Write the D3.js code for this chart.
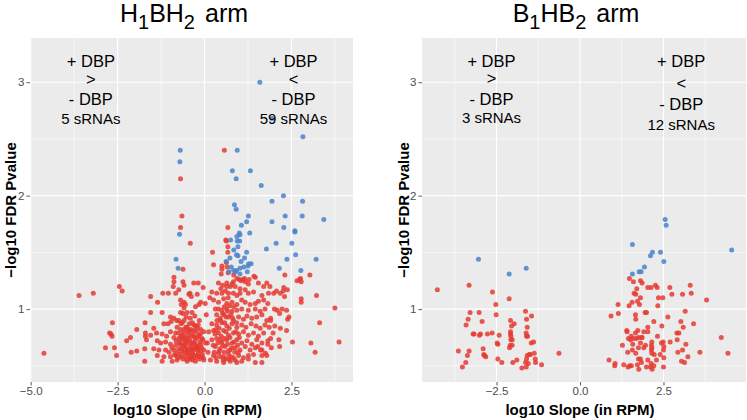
<!DOCTYPE html>
<html><head><meta charset="utf-8">
<script src="https://cdn.jsdelivr.net/npm/d3@7"></script>
<style>
body{margin:0;background:#fff;}
svg{display:block;font-family:"Liberation Sans",Arial,Helvetica,sans-serif;}
</style>
</head><body>
<svg id="chart" width="747" height="420"></svg>
<script>
// ---------------- DATA ----------------
const yTicks = [1, 2, 3];
const xTicksH = [-5, -2.5, 0, 2.5];
const xTicksB = [-2.5, 0, 2.5];
const xLabel = "log10 Slope (in RPM)";
const yLabel = "\u2212log10 FDR Pvalue";
const leftNote = ["+ DBP", ">", "- DBP"];
const rightNote = ["+ DBP", "<", "- DBP"];
const countsH = ["5 sRNAs", "59 sRNAs"];
const countsB = ["3 sRNAs", "12 sRNAs"];

// H1BH2 arm: significant (blue)
const h1bh2Sig = [
[-0.70,2.40],[-0.71,2.30],[-0.72,1.66],[-0.82,1.44],[-0.76,1.36],
[1.59,3.00],[1.94,2.68],[2.83,2.52],[0.94,2.40],[0.80,2.22],[1.32,2.22],[0.91,2.15],[1.63,2.09],[2.27,2.00],[1.94,1.95],[2.82,1.95],
[0.86,1.92],[0.91,1.88],[1.26,1.82],[2.32,1.82],[2.81,1.82],[3.43,1.79],[1.21,1.77],[1.94,1.77],[1.06,1.74],[2.28,1.72],
[2.60,1.69],[2.60,1.68],[1.00,1.67],[1.02,1.655],[0.93,1.64],[1.30,1.67],[2.06,1.58],[2.51,1.58],[0.94,1.60],[1.01,1.60],
[0.75,1.61],[0.96,1.55],[1.78,1.53],[0.84,1.52],[1.21,1.50],[2.62,1.48],[0.92,1.48],[0.96,1.47],[3.21,1.44],[0.73,1.45],[2.37,1.44],
[0.62,1.42],[0.77,1.37],[0.84,1.34],[0.92,1.34],[1.02,1.36],[1.02,1.31],[1.13,1.37],[1.25,1.38],[1.27,1.40],[1.34,1.40],
[1.23,1.33],[2.15,1.36],[2.77,1.34],[0.89,1.33],[1.05,1.42],[0.70,1.33],[1.15,1.45]
];

// H1BH2 arm: other (red)
const h1bh2Other = [
[-4.62,0.61],[-3.61,1.12],[-3.20,1.14],[-2.45,1.20],[-2.37,1.16],[-2.65,0.88],[-2.73,0.79],[-2.69,0.78],[-2.66,0.76],[-2.85,0.66],
[-2.59,0.66],[-2.53,0.59],[-2.24,0.72],[-2.13,0.75],[-1.95,0.82],[-2.11,0.62],[-1.95,0.63],[-1.70,0.79],[-1.70,0.76],[-1.71,0.88],
[-1.72,0.65],[-1.72,0.54],[-1.55,0.97],[-1.67,0.73],
[-0.88,1.28],[-0.88,1.24],[-0.90,1.20],[-0.62,1.24],[-0.59,1.21],[-0.31,1.23],[-0.18,1.23],[-0.42,1.14],[-1.20,1.14],[-1.04,1.14],
[-0.83,1.14],[-0.74,1.17],[-0.04,1.19],[-1.35,1.06],[-1.55,1.11],[-0.69,1.08],[-0.59,1.06],[-0.67,1.04],[-0.55,1.04],[-0.59,1.01],
[-0.45,1.13],[-0.38,1.11],[-0.21,1.13],[-0.16,1.04],[-0.11,1.06],[-0.26,1.02],[-0.69,0.97],[-0.62,0.96],[-1.22,0.97],[-0.98,0.93],
[-0.88,0.92],[-1.17,0.87],[-1.05,0.87],[-0.96,0.89],[-0.74,0.90],[-0.64,0.88],[-0.59,0.90],[-0.35,0.88],[-0.31,0.86],[-0.79,0.84],
[-0.69,0.82],[-0.59,0.82],[-0.50,0.84],[-0.40,0.82],[-0.31,0.81],[-0.21,0.83],[-0.11,0.82],[-0.02,0.80],[-1.46,0.83],[-1.38,0.79],
[-1.55,0.77],[-1.22,0.78],[-1.09,0.76],[-0.98,0.80],[-0.83,0.79],
[-0.88,0.75],[-0.74,0.74],[-0.64,0.77],[-0.55,0.75],[-0.45,0.74],[-0.35,0.76],[-0.26,0.75],[-0.16,0.77],[-0.07,0.74],
[-1.36,0.72],[-1.26,0.70],[-1.12,0.71],
[-0.98,0.69],[-0.83,0.68],[-0.69,0.69],[-0.59,0.67],[-0.50,0.70],[-0.40,0.68],[-0.31,0.70],[-0.21,0.67],[-0.11,0.69],[0.03,0.70],
[-1.46,0.65],[-1.31,0.64],
[-1.12,0.64],[-1.02,0.62],[-0.88,0.64],[-0.74,0.65],[-0.64,0.63],[-0.50,0.64],[-0.35,0.62],[-0.23,0.65],[-0.11,0.63],[-0.02,0.64],
[-1.36,0.59],[-1.17,0.58],
[-0.98,0.58],[-0.83,0.59],[-0.67,0.58],[-0.55,0.59],[-0.40,0.57],[-0.31,0.59],[-0.16,0.58],[-0.04,0.57],
[-1.22,0.54],[-0.93,0.54],[-0.79,0.55],[-0.50,0.54],[-0.26,0.54],[-0.02,0.55],
[-0.78,0.62],[-0.70,0.60],[-0.62,0.56],[-0.57,0.62],[-0.52,0.66],[-0.46,0.60],[-0.43,0.56],[-0.38,0.66],[-0.33,0.60],[-0.28,0.57],
[-0.24,0.68],[-0.18,0.61],[-0.14,0.56],[-0.08,0.66],[-0.72,0.70],[-0.66,0.73],[-0.60,0.68],[-0.53,0.72],[-0.47,0.77],[-0.42,0.72],
[-0.36,0.70],[-0.30,0.76],[-0.27,0.72],[-0.19,0.75],[-0.13,0.71],[-0.60,0.79],[-0.54,0.84],[-0.48,0.80],[-0.44,0.87],[-0.37,0.79],
[-0.24,0.80],[-0.18,0.86],[-0.05,0.73],[-0.52,0.56],[-0.35,0.55],[-0.66,0.65],[-0.20,0.64],[-0.41,0.92],[-0.50,0.97],[-0.28,0.94],
[-0.80,0.90],[-0.58,0.74],[-0.32,0.64],[-0.12,0.78],[-0.06,0.60],
[-0.86,0.60],[-0.76,0.57],[-0.48,0.62],[-0.38,0.59],[-0.22,0.59],[-0.09,0.58],[-0.68,0.76],[-0.44,0.81],[-0.26,0.85],[-0.15,0.90],
[-0.68,0.87],[-0.53,0.93],[-0.36,0.97],[-0.82,0.72],[-0.94,0.66],[-0.42,0.64],[-0.16,0.66],[-0.29,0.66],[-0.56,0.70],[-0.74,0.79],
[-0.69,2.15],[0.57,2.40],[-0.65,1.82],[-0.69,1.72],[-0.41,1.58],[0.67,1.72],[0.61,1.61],[0.63,1.60],[0.67,1.55],[0.23,1.50],
[0.67,1.50],[-0.62,1.35],[0.63,1.41],[0.65,1.37],[0.68,1.32],[0.84,1.30],[1.42,1.29],[2.31,1.30],[3.03,1.30],[2.76,1.27],
[1.00,1.26],[1.10,1.26],[1.28,1.26],
[0.26,1.39],[0.50,1.38],[0.50,1.35],[0.48,1.31],
[0.64,1.23],[0.83,1.24],[0.93,1.27],[1.05,1.25],[1.17,1.24],[1.15,1.27],[1.26,1.22],[1.46,1.28],[1.55,1.23],[1.79,1.23],[1.70,1.20],
[0.40,1.23],[0.52,1.21],[0.64,1.20],[0.79,1.22],[0.88,1.20],[1.02,1.18],[1.17,1.17],
[0.21,1.15],[0.35,1.14],[0.50,1.14],[0.69,1.14],[0.83,1.14],[0.93,1.12],[1.02,1.14],[1.26,1.14],[1.41,1.15],[1.65,1.12],[1.84,1.14],
[0.26,1.08],[0.40,1.06],[0.55,1.09],[0.64,1.05],[0.79,1.06],[0.93,1.04],[1.07,1.08],[1.17,1.06],[1.31,1.04],[1.46,1.05],[1.55,1.07],[1.70,1.08],[1.82,1.05],
[0.31,1.00],[0.50,0.99],[0.64,1.00],[0.79,0.98],[0.93,0.99],[1.07,1.00],[1.26,0.99],[1.46,1.00],[1.60,0.98],[1.74,1.00],
[0.35,0.95],[0.45,0.92],[0.55,0.95],[0.69,0.93],[0.83,0.90],[0.98,0.93],[1.12,0.91],[1.22,0.94],[1.36,0.92],[1.50,0.93],[1.65,0.95],[1.79,0.90],
[0.21,0.87],[0.35,0.86],[0.50,0.88],[0.64,0.85],[0.79,0.87],[0.93,0.84],[1.07,0.86],[1.19,0.84],[1.34,0.87],[1.48,0.85],[1.60,0.83],[1.74,0.86],[1.86,0.84],
[0.26,0.81],[0.40,0.79],[0.55,0.81],[0.69,0.77],[0.83,0.79],[0.98,0.78],[1.12,0.80],[1.26,0.77],[1.41,0.79],[1.55,0.76],[1.70,0.79],
[0.21,0.73],[0.35,0.74],[0.50,0.71],[0.64,0.73],[0.79,0.70],[0.93,0.73],[1.07,0.70],[1.22,0.72],[1.36,0.69],[1.50,0.73],[1.65,0.70],[1.82,0.72],
[0.31,0.67],[0.45,0.65],[0.59,0.67],[0.74,0.64],[0.88,0.66],[1.02,0.64],[1.17,0.67],[1.31,0.64],[1.46,0.66],[1.65,0.64],
[0.26,0.59],[0.40,0.61],[0.55,0.58],[0.69,0.60],[0.83,0.57],[0.98,0.59],[1.12,0.57],[1.26,0.59],[1.41,0.60],[1.65,0.59],[1.79,0.59],
[0.35,0.54],[0.55,0.53],[0.74,0.54],[0.93,0.53],[1.07,0.54],[1.26,0.56],[1.46,0.53],[1.65,0.53],
[0.28,0.62],[0.33,0.57],[0.38,0.70],[0.42,0.63],[0.46,0.58],[0.48,0.76],[0.52,0.68],[0.56,0.62],[0.58,0.74],[0.61,0.56],
[0.62,0.80],[0.66,0.69],[0.68,0.63],[0.71,0.83],[0.73,0.75],[0.76,0.58],[0.78,0.66],[0.81,0.92],[0.85,0.71],[0.87,0.62],
[0.90,0.80],[0.95,0.68],[0.42,0.83],[0.46,0.90],[0.52,0.96],[0.58,0.88],[0.62,0.93],[0.66,0.98],[0.72,1.03],[0.76,0.95],
[0.30,0.78],[0.36,0.90],[0.40,1.00],[0.45,0.73],[0.54,0.55],[0.70,0.56],[0.88,0.55],[0.97,0.62],[1.00,0.75],[0.25,0.68],
[0.57,1.02],[0.68,1.10],[0.84,1.02],[0.60,1.16],[0.47,1.18],[0.74,1.20],[0.92,0.88],[0.33,0.82],
[0.05,0.95],[0.10,0.62],[0.12,0.80],[0.15,1.10],[0.08,0.70],[0.17,0.55],[0.02,1.05],
[1.88,1.20],[2.07,1.16],[2.18,1.14],[2.28,1.19],[2.30,1.11],[2.38,1.17],[2.66,1.25],[2.74,1.26],[2.78,1.24],
[2.78,1.09],[2.78,1.06],[3.22,1.12],[3.75,1.01],[3.31,0.88],[3.87,0.71],[3.06,0.70],[3.18,0.62],[2.53,0.71],[2.16,0.67],
[2.36,0.81],[2.39,0.91],[2.43,0.93],[2.36,0.99],[2.23,1.00],[2.09,0.99],[2.01,1.00],[2.16,0.96],[1.90,0.92],[1.90,0.90],
[2.18,0.83],[2.02,0.85],[1.97,0.79],[1.90,0.74],[1.92,0.66],[2.14,0.73],[1.82,0.69],[1.75,0.61],[1.61,0.64],[1.53,0.67],
[1.99,1.14],[2.26,1.16]
];

// B1HB2 arm: significant (blue)
const b1hb2Sig = [
[-3.04,1.44],[-2.12,1.31],[-1.61,1.36],[1.57,1.57],[1.57,1.31],[1.77,1.33],[1.83,1.33],[1.93,1.37],
[2.11,1.47],[2.17,1.50],[2.41,1.50],[2.51,1.42],[2.55,1.79],[2.58,1.74],[4.54,1.52]
];

// B1HB2 arm: other (red)
const b1hb2Other = [
[-4.27,1.17],[-3.32,1.21],[-2.62,1.15],[-2.12,1.09],[-2.52,1.04],[-3.29,0.97],[-3.02,0.97],[-1.63,0.98],[-3.41,0.86],[-3.35,0.91],
[-2.93,0.89],[-2.51,0.95],[-2.08,0.90],[-1.97,0.87],[-2.05,0.85],[-1.45,0.94],[-1.60,0.91],[-1.58,0.84],[-3.20,0.78],[-3.17,0.78],
[-3.01,0.77],[-2.98,0.78],[-2.77,0.78],[-2.63,0.79],[-2.42,0.77],[-2.08,0.80],[-2.08,0.78],[-2.07,0.76],[-1.61,0.79],[-1.60,0.76],
[-1.57,0.76],[-2.07,0.73],[-2.03,0.73],[-2.48,0.70],[-2.46,0.69],[-2.09,0.68],[-2.03,0.68],[-2.11,0.66],[-1.39,0.71],[-1.46,0.70],
[-2.90,0.65],[-3.64,0.63],[-3.32,0.63],[-2.88,0.60],[-2.86,0.59],[-2.82,0.58],[-2.46,0.56],[-2.34,0.53],[-2.01,0.53],[-1.89,0.55],
[-1.58,0.59],[-1.52,0.60],[-1.49,0.60],[-1.37,0.61],[-1.60,0.56],[-1.34,0.56],[-1.63,0.53],[-1.55,0.52],[-1.33,0.53],[-1.15,0.51],
[-1.74,0.48],[-1.61,0.49],[-3.42,0.53],[-3.37,0.59],[-3.52,0.49],[-0.63,0.61],
[1.48,1.27],[1.60,1.24],[1.81,1.25],[1.86,1.23],[1.70,1.18],[2.03,1.19],[2.13,1.19],[2.26,1.21],[2.31,1.19],[2.69,1.19],
[3.30,1.21],[3.33,1.14],[2.75,1.13],[3.07,1.13],[1.62,1.14],[1.67,1.13],[1.81,1.10],[2.35,1.10],[2.48,1.10],[1.56,1.06],
[1.72,1.07],[1.78,1.04],[1.47,1.03],[2.33,1.03],[1.14,1.04],[3.79,1.08],[0.93,0.94],[1.15,0.96],[1.66,0.95],[1.67,0.91],
[1.95,0.97],[1.99,0.97],[2.21,0.89],[2.63,0.93],[3.15,0.98],[3.02,0.89],[3.09,0.84],[3.40,0.87],[2.45,0.85],[2.03,0.84],
[2.03,0.80],[1.40,0.81],[1.41,0.80],[1.73,0.81],[1.91,0.80],[1.66,0.79],[1.75,0.75],[1.84,0.75],[1.45,0.74],[1.53,0.76],
[1.51,0.73],[1.60,0.74],[1.69,0.74],[1.86,0.75],[2.32,0.76],[2.90,0.79],[2.96,0.79],[2.91,0.73],[2.15,0.71],[2.44,0.70],
[2.49,0.71],[2.70,0.71],[1.81,0.70],[1.58,0.69],[1.27,0.68],[1.96,0.68],[2.14,0.68],[2.15,0.66],[2.51,0.67],[2.50,0.64],
[3.17,0.69],[4.23,0.75],[1.43,0.62],[1.57,0.64],[1.67,0.61],[1.75,0.66],[1.91,0.66],[2.14,0.64],[2.15,0.61],[2.22,0.60],
[2.40,0.60],[2.51,0.57],[2.93,0.62],[3.07,0.64],[3.23,0.58],[3.59,0.62],[4.43,0.61],[0.87,0.55],[1.05,0.52],[1.04,0.50],
[1.31,0.51],[1.44,0.49],[1.49,0.50],[1.54,0.50],[1.75,0.56],[1.81,0.56],[1.84,0.53],[1.72,0.51],[1.76,0.47],[1.99,0.49],
[2.03,0.55],[2.13,0.52],[2.11,0.49],[2.16,0.47],[2.21,0.50],[2.29,0.55],[2.50,0.49],[3.04,0.54],[3.13,0.53]
];

// ---------------- DRAW ----------------
const svg = d3.select("#chart");
const red = "#E53B33", blue = "#4A84CC";
const panelTop = 38, panelBottom = 382;
const y = d3.scaleLinear().domain([0.357, 3.39]).range([panelBottom, panelTop]);

function drawPanel(o) {
  const x = d3.scaleLinear().domain(o.xDomain).range([o.left, o.right]);
  const g = svg.append("g");
  g.append("rect").attr("x", o.left).attr("y", panelTop)
    .attr("width", o.right - o.left).attr("height", panelBottom - panelTop).attr("fill", "#EBEBEB");
  const [x0, x1] = o.xDomain;
  const minorX = [-3.75, -1.25, 1.25, 3.75].filter(v => v > x0 && v < x1);
  const minorY = [0.5, 1.5, 2.5];
  g.selectAll(".mx").data(minorX).join("line")
    .attr("x1", d => x(d)).attr("x2", d => x(d)).attr("y1", panelTop).attr("y2", panelBottom)
    .attr("stroke", "#fff").attr("stroke-width", 0.6);
  g.selectAll(".my").data(minorY).join("line")
    .attr("x1", o.left).attr("x2", o.right).attr("y1", d => y(d)).attr("y2", d => y(d))
    .attr("stroke", "#fff").attr("stroke-width", 0.6);
  g.selectAll(".gx").data(o.xTicks.filter(v => v > x0 && v < x1)).join("line")
    .attr("x1", d => x(d)).attr("x2", d => x(d)).attr("y1", panelTop).attr("y2", panelBottom)
    .attr("stroke", "#fff").attr("stroke-width", 1.2);
  g.selectAll(".gy").data(yTicks).join("line")
    .attr("x1", o.left).attr("x2", o.right).attr("y1", d => y(d)).attr("y2", d => y(d))
    .attr("stroke", "#fff").attr("stroke-width", 1.2);

  // points
  g.selectAll(".pr").data(o.other).join("circle")
    .attr("cx", d => x(d[0])).attr("cy", d => y(d[1])).attr("r", 2.5)
    .attr("fill", red).attr("fill-opacity", 0.85);
  g.selectAll(".pb").data(o.sig).join("circle")
    .attr("cx", d => x(d[0])).attr("cy", d => y(d[1])).attr("r", 2.5)
    .attr("fill", blue).attr("fill-opacity", 0.85);

  // axes
  const ax = g.append("g").attr("transform", `translate(0,${panelBottom})`)
    .call(d3.axisBottom(x).tickValues(o.xTicks).tickFormat(d3.format(".1f")).tickSize(3.5).tickPadding(1.5));
  const ay = g.append("g").attr("transform", `translate(${o.left},0)`)
    .call(d3.axisLeft(y).tickValues(yTicks).tickFormat(d3.format("d")).tickSize(3.5).tickPadding(2));
  [ax, ay].forEach(a => {
    a.select(".domain").remove();
    a.selectAll(".tick line").attr("stroke", "#333").attr("stroke-width", 0.8);
    a.selectAll(".tick text").attr("fill", "#4D4D4D").style("font-size", "11.5px")
      .style("font-family", '"Liberation Sans",Arial,sans-serif');
  });

  // axis titles
  g.append("text").attr("x", (o.left + o.right) / 2 - 4).attr("y", 415)
    .attr("text-anchor", "middle").style("font-size", "15px").style("font-weight", "bold")
    .attr("fill", "#000").text(xLabel);
  g.append("text").attr("transform", `translate(${o.yTitleX},210) rotate(-90)`)
    .attr("text-anchor", "middle").style("font-size", "15px").style("font-weight", "bold")
    .attr("fill", "#000").text(yLabel);

  // title
  const t = g.append("text").attr("x", o.titleX).attr("y", 22).attr("text-anchor", "middle")
    .style("font-size", "25px").attr("fill", "#000");
  t.append("tspan").text(o.title[0]);
  t.append("tspan").attr("dy", 6.5).style("font-size", "20px").text(o.title[1]);
  t.append("tspan").attr("dy", -6.5).text(o.title[2]);
  t.append("tspan").attr("dy", 6.5).style("font-size", "20px").text(o.title[3]);
  t.append("tspan").attr("dy", -6.5).attr("dx", 10).text(o.title[4]);

  // annotations
  o.notes.forEach(n => {
    const cx = x(n.x);
    n.lines.forEach((s, i) => {
      g.append("text").attr("x", cx).attr("y", n.base[i]).attr("text-anchor", "middle")
        .style("font-size", "16.5px").attr("fill", "#000").text(s);
    });
    g.append("text").attr("x", cx).attr("y", n.base[3]).attr("text-anchor", "middle")
      .style("font-size", "15px").attr("fill", "#000").text(n.count);
  });
}

drawPanel({
  left: 30, right: 353, xDomain: [-5.02, 4.27], xTicks: xTicksH,
  sig: h1bh2Sig, other: h1bh2Other, yTitleX: 16, titleX: 184,
  title: ["H", "1", "BH", "2", "arm"],
  notes: [
    {x: -3.27, lines: leftNote, count: countsH[0], base: [67, 85, 105, 124]},
    {x: 2.56, lines: rightNote, count: countsH[1], base: [67, 85, 105, 124]}
  ]
});
drawPanel({
  left: 422, right: 746, xDomain: [-4.73, 4.97], xTicks: xTicksB,
  sig: b1hb2Sig, other: b1hb2Other, yTitleX: 409, titleX: 576,
  title: ["B", "1", "HB", "2", "arm"],
  notes: [
    {x: -2.65, lines: leftNote, count: countsB[0], base: [67, 84, 105, 123]},
    {x: 3.03, lines: rightNote, count: countsB[1], base: [67, 89, 110, 130]}
  ]
});
</script>
</body></html>
